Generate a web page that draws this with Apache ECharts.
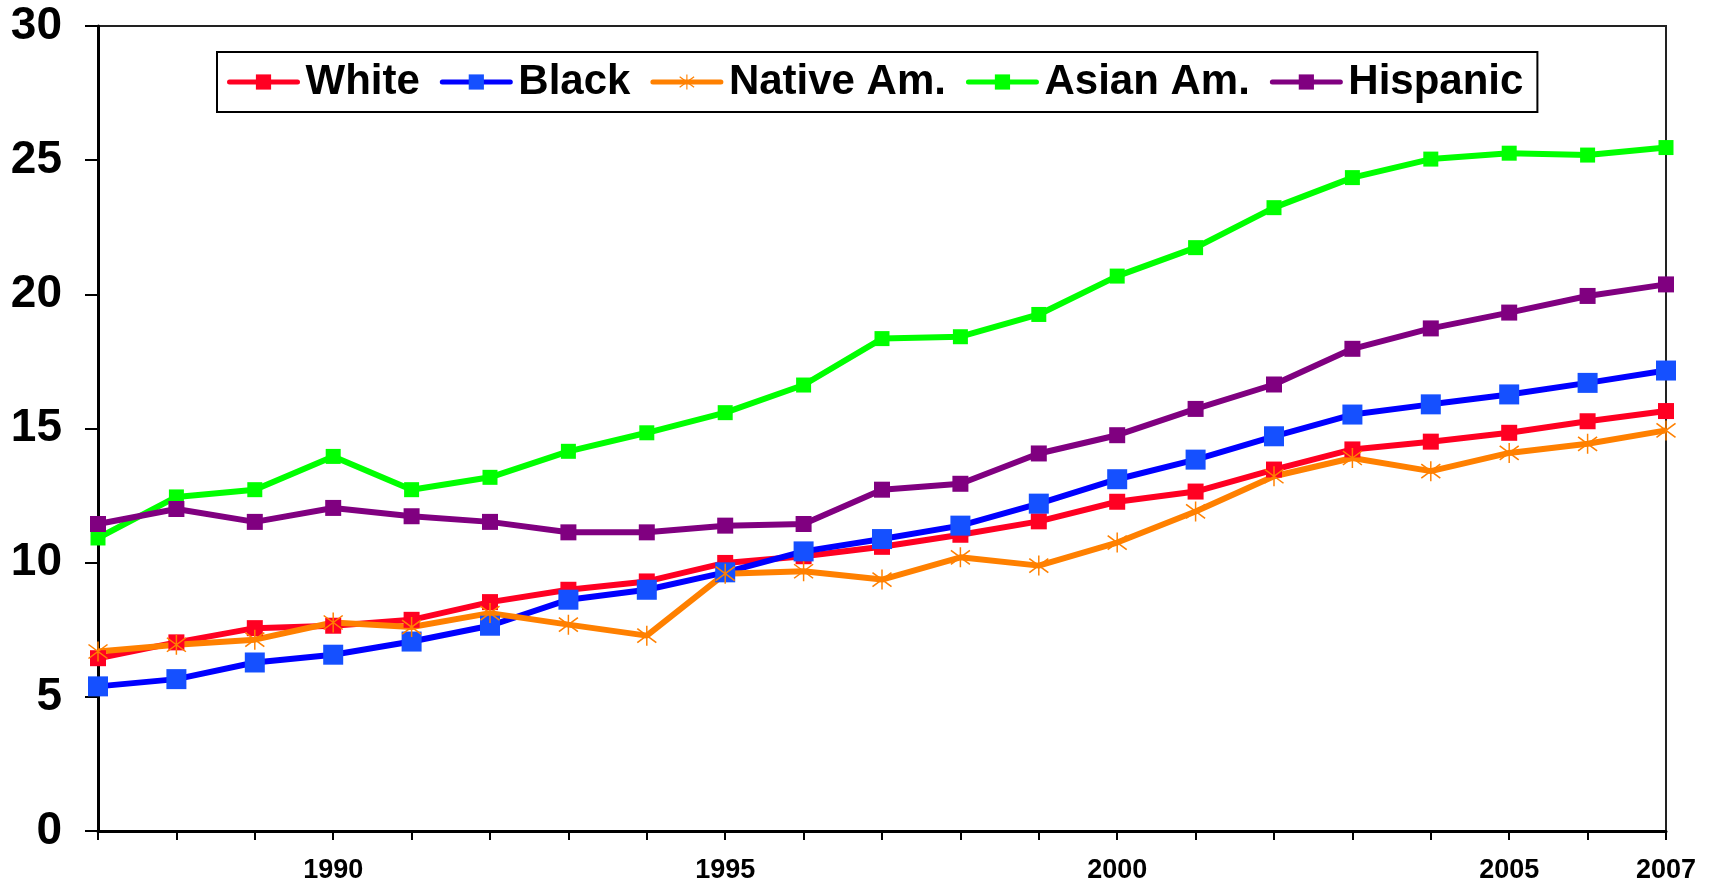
<!DOCTYPE html>
<html>
<head>
<meta charset="utf-8">
<script src="https://cdn.jsdelivr.net/npm/echarts@6/dist/echarts.min.js"></script>
<style>
html,body{margin:0;padding:0;background:#fff;}
#chart{width:1711px;height:890px;}
</style>
</head>
<body>
<div id="chart"></div>
<script>
var years = ['1987','1988','1989','1990','1991','1992','1993','1994','1995','1996','1997','1998','1999','2000','2001','2002','2003','2004','2005','2006','2007'];
var xTickLabels = ['1990','1995','2000','2005','2007'];
var white = [6.44, 7.03, 7.56, 7.65, 7.87, 8.53, 8.99, 9.3, 9.99, 10.24, 10.59, 11.04, 11.54, 12.27, 12.65, 13.47, 14.22, 14.51, 14.84, 15.27, 15.65];
var black = [5.39, 5.66, 6.28, 6.57, 7.06, 7.65, 8.62, 8.99, 9.64, 10.42, 10.88, 11.38, 12.2, 13.11, 13.84, 14.71, 15.52, 15.9, 16.27, 16.7, 17.16];
var nativeAm = [6.69, 6.94, 7.13, 7.77, 7.6, 8.12, 7.69, 7.28, 9.59, 9.68, 9.37, 10.2, 9.89, 10.75, 11.91, 13.22, 13.9, 13.41, 14.09, 14.43, 14.93];
var asianAm = [10.92, 12.45, 12.72, 13.96, 12.72, 13.18, 14.15, 14.84, 15.59, 16.62, 18.35, 18.42, 19.25, 20.68, 21.74, 23.23, 24.35, 25.04, 25.26, 25.19, 25.47];
var hispanic = [11.44, 12.0, 11.52, 12.04, 11.73, 11.52, 11.13, 11.13, 11.38, 11.44, 12.72, 12.94, 14.07, 14.75, 15.73, 16.64, 17.97, 18.73, 19.32, 19.94, 20.37];
var seriesNames = ['White','Black','Native Am.','Asian Am.','Hispanic'];

var star = 'path://M9.3 0L10.7 0L10.7 20L9.3 20Z M1.46 2.41L19.46 16.41L18.54 17.59L0.54 3.59Z M0.54 16.41L18.54 2.41L19.46 3.59L1.46 17.59Z';
var FONT = '"Liberation Sans", Arial, sans-serif';

var chart = echarts.init(document.getElementById('chart'), null, {renderer:'canvas'});

function mk(name, data, lineColor, markColor, symbol, size) {
  return {
    name: name, type: 'line', data: data,
    symbol: symbol, symbolSize: size, showSymbol: true,
    lineStyle: {color: lineColor, width: 6},
    itemStyle: {color: markColor, borderWidth: 0},
    emphasis: {disabled: true},
    animation: false
  };
}

var option = {
  backgroundColor: '#fff',
  animation: false,
  grid: {left: 98, right: 45, top: 26, bottom: 59, show: true, borderColor: '#222', borderWidth: 2, backgroundColor: 'transparent'},
  legend: {
    data: seriesNames,
    left: 217, top: 52,
    orient: 'horizontal',
    itemWidth: 68, itemHeight: 19, itemGap: 20,
    padding: [9, 14, 9, 10],
    borderColor: '#000', borderWidth: 2, backgroundColor: '#fff',
    lineStyle: {width: 5, cap: 'round'},
    textStyle: {fontFamily: FONT, fontWeight: 'bold', fontSize: 42, color: '#000', padding: [0, 0, 0, 3]},
    selectedMode: false
  },
  xAxis: {
    type: 'category', data: years, boundaryGap: false,
    axisLine: {lineStyle: {color: '#000', width: 3}},
    axisTick: {show: true, interval: 0, length: 9, lineStyle: {color: '#000', width: 2}},
    axisLabel: {
      interval: function (i, v) { return xTickLabels.indexOf(v) >= 0; },
      fontFamily: FONT, fontWeight: 'bold', fontSize: 27, color: '#000', margin: 26
    },
    splitLine: {show: false}
  },
  yAxis: {
    type: 'value', min: 0, max: 30, interval: 5,
    axisLine: {show: true, lineStyle: {color: '#000', width: 3}},
    axisTick: {show: true, length: 13, lineStyle: {color: '#000', width: 2}},
    axisLabel: {fontFamily: FONT, fontWeight: 'bold', fontSize: 46, color: '#000', margin: 36},
    splitLine: {show: false}
  },
  series: [
    mk('White', white, '#FF0022', '#FF0022', 'rect', 16),
    mk('Black', black, '#0000FF', '#1550FF', 'rect', 20),
    mk('Native Am.', nativeAm, '#FF8000', '#FF8000', star, 20),
    mk('Asian Am.', asianAm, '#00FF00', '#00FF00', 'rect', 15),
    mk('Hispanic', hispanic, '#800080', '#800080', 'rect', 16)
  ]
};
chart.setOption(option);
</script>
</body>
</html>
